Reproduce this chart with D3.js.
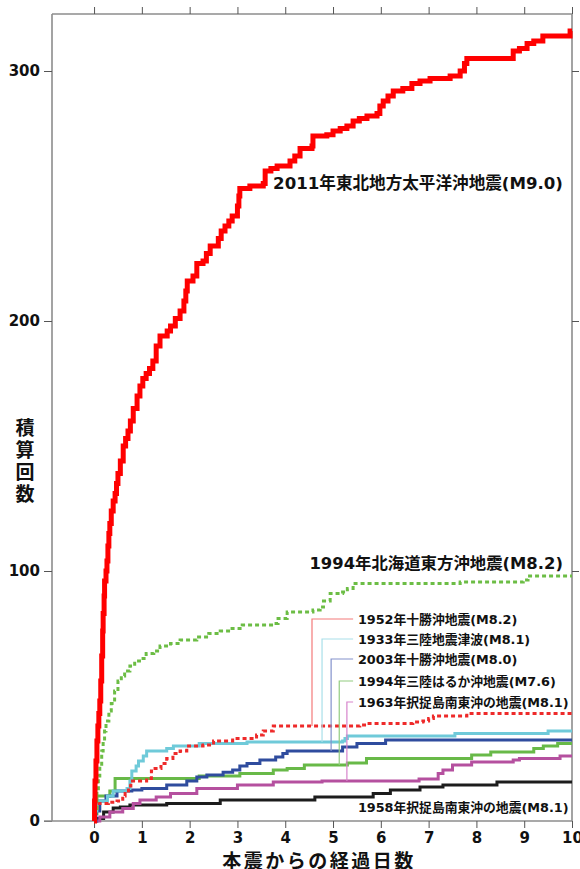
<!DOCTYPE html>
<html>
<head>
<meta charset="utf-8">
<script src="https://cdn.jsdelivr.net/npm/d3@7"></script>
<style>
  html, body { margin: 0; padding: 0; background: #fff; }
  svg { display: block; }
  text { font-family: "DejaVu Sans", "Noto Sans CJK JP", sans-serif; font-weight: bold; fill: #111; }
</style>
</head>
<body>
<svg id="chart" width="580" height="869"></svg>
<script>
// Cumulative aftershock counts [days after mainshock, count] (step after)
const eq2011 = [[0,0],[0.01,8],[0.02,16],[0.04,24],[0.06,32],[0.08,38],[0.1,43],[0.12,48],[0.14,56],[0.16,66],[0.18,76],[0.19,83],[0.21,90],[0.22,96],[0.25,100],[0.27,104],[0.29,110],[0.31,115],[0.33,119],[0.36,124],[0.4,128],[0.44,131],[0.47,135],[0.5,139],[0.55,144],[0.61,150],[0.66,153],[0.71,156],[0.76,160],[0.82,165],[0.9,170],[0.96,174],[1.02,177],[1.09,179],[1.16,181],[1.23,184],[1.3,190],[1.38,194],[1.53,196],[1.6,198],[1.7,201],[1.8,204],[1.88,208],[1.92,212],[1.95,216],[2.07,218],[2.15,223],[2.28,224],[2.35,227],[2.43,230],[2.6,233],[2.66,236],[2.74,238],[2.82,240],[2.89,242],[3.0,246],[3.03,250],[3.05,253],[3.26,254],[3.54,255],[3.58,260],[3.7,261],[3.83,262],[4.1,264],[4.2,266],[4.31,269],[4.56,270],[4.58,274],[4.87,274.5],[5.0,276],[5.15,277],[5.29,278],[5.42,280],[5.55,281],[5.71,282],[5.92,283],[5.98,286],[6.05,288],[6.15,290],[6.26,292],[6.46,293],[6.65,295],[6.82,296],[7.03,297],[7.45,298],[7.66,300],[7.75,303],[7.8,305],[8.77,308],[8.9,309],[9.06,311],[9.2,312],[9.39,314],[9.96,316],[10,316]];
const eq1994h = [[0,0],[0.03,5],[0.06,12],[0.09,18],[0.12,22],[0.16,28],[0.19,32],[0.22,36],[0.25,40],[0.31,44],[0.36,47],[0.43,52],[0.5,56],[0.57,58],[0.64,60],[0.75,62],[0.85,64],[0.95,65],[1.09,67],[1.25,68],[1.38,70],[1.6,71],[1.8,72.4],[2.15,73.6],[2.4,75],[2.64,76],[2.85,77],[3.1,78.4],[3.75,79],[3.85,81],[4.04,83.6],[4.58,84.4],[4.73,85.6],[4.8,88],[4.94,91],[5.2,91.6],[5.3,93],[5.42,95],[7.66,95.6],[8.98,96.4],[9.08,98],[10,98]];
const eq1952 = [[0,0],[0.02,4],[0.06,7],[0.3,7.5],[0.48,8],[0.6,10],[0.65,11],[0.72,14],[0.77,16],[1.1,17],[1.2,20],[1.24,21],[1.4,23],[1.52,25],[1.65,27],[1.8,28],[1.94,30],[2.28,30.4],[2.5,32],[2.9,33],[3.4,34.4],[3.54,36],[3.75,38],[5.56,38.4],[5.7,39],[6.67,39.6],[6.88,40],[7.0,41],[7.1,42],[7.8,43],[10,43]];
const eq1933 = [[0,0],[0.03,4],[0.06,8],[0.28,10],[0.4,12],[0.69,13],[0.75,16],[0.79,20],[0.88,22],[0.93,24],[1.03,26],[1.1,28],[1.52,29],[1.66,30],[2.2,31],[3.2,31.6],[5.2,32],[5.25,33],[5.3,34],[7.55,35],[9.5,36],[10,36]];
const eq2003 = [[0,0],[0.04,4],[0.12,8],[0.25,10],[0.48,12],[0.79,12.4],[1.0,13],[1.52,14.4],[1.94,16],[2.15,17.6],[2.36,18.4],[2.7,19.5],[2.9,20.4],[3.05,22],[3.2,23],[3.47,24.4],[3.8,25.6],[3.95,27],[4.04,28],[5.2,29.6],[5.5,31],[6.1,32.4],[10,32.4]];
const eq1994s = [[0,0],[0.03,3],[0.06,10],[0.33,12],[0.44,17],[2.2,18],[3.05,19],[3.75,20.4],[4.04,21],[4.4,22.4],[5.3,23.2],[5.7,25],[7.9,26.4],[8.3,27.6],[9.2,29],[9.4,30],[9.7,31],[10,31]];
const eq1963 = [[0,0],[0.12,1.6],[0.33,3.6],[0.6,5],[0.82,7],[0.96,8.4],[1.3,9.6],[1.6,11],[2.15,13],[3.0,14.4],[3.75,15.6],[4.77,16],[6.8,16.8],[7.2,19],[7.3,20.4],[7.5,22.4],[7.9,23.6],[8.77,24.4],[8.9,25],[9.75,26],[10,26]];
const eq1958 = [[0,0],[0.06,1],[0.2,3.6],[0.4,5.2],[0.55,5.6],[0.75,6.4],[1.52,7],[2.64,8.4],[4.62,9.6],[5.84,11],[6.2,12.4],[6.82,13.6],[7.3,14.4],[8.43,15.6],[10,15.6]];

const xTicks = [0,1,2,3,4,5,6,7,8,9,10];
const yTicks = [0,100,200,300];
const xTitle = "本震からの経過日数";
const yTitle = ["積","算","回","数"];

// Series drawn back to front
const series = [
  { name: "1958年択捉島南東沖の地震(M8.1)", data: eq1958, color: "#1c1c1c", width: 3, dash: null },
  { name: "1963年択捉島南東沖の地震(M8.1)", data: eq1963, color: "#b5509f", width: 3, dash: null },
  { name: "1994年三陸はるか沖地震(M7.6)", data: eq1994s, color: "#68b948", width: 3, dash: null },
  { name: "2003年十勝沖地震(M8.0)", data: eq2003, color: "#2f4c9e", width: 3, dash: null },
  { name: "1933年三陸地震津波(M8.1)", data: eq1933, color: "#6fcad9", width: 3, dash: null },
  { name: "1952年十勝沖地震(M8.2)", data: eq1952, color: "#ee2a2a", width: 3, dash: "4,3" },
  { name: "1994年北海道東方沖地震(M8.2)", data: eq1994h, color: "#6cbd45", width: 3, dash: "4,3" },
  { name: "2011年東北地方太平洋沖地震(M9.0)", data: eq2011, color: "#ff0000", width: 5, dash: null }
];

// Leader-line labels: series index, day where the leader drops, count at the label row
const leaders = [
  { idx: 5, day: 4.56, row: 80.8, color: "#f37a7a" },
  { idx: 4, day: 4.77, row: 72.8, color: "#a9e0ea" },
  { idx: 3, day: 4.96, row: 64.8, color: "#8392cc" },
  { idx: 2, day: 5.13, row: 56.0, color: "#92cc80" },
  { idx: 1, day: 5.29, row: 47.6, color: "#d784cc" }
];

const svg = d3.select("#chart");
const x = d3.scaleLinear().domain([-0.88, 10]).range([52, 572]);
const y = d3.scaleLinear().domain([0, 322.8]).range([821, 14]);

// Frame: left / right / top / bottom axes
const axisColor = "#8c8c8c";
const axLeft = svg.append("g").attr("transform", `translate(${x.range()[0]},0)`)
  .call(d3.axisLeft(y).tickValues(yTicks).tickSize(8).tickPadding(4));
const axRight = svg.append("g").attr("transform", `translate(${x.range()[1]},0)`)
  .call(d3.axisRight(y).tickValues(yTicks.slice(1)).tickSize(7).tickFormat(""));
const axTop = svg.append("g").attr("transform", `translate(0,${y.range()[1]})`)
  .call(d3.axisTop(x).tickValues(xTicks).tickSize(7).tickFormat(""));
const axBottom = svg.append("g").attr("transform", `translate(0,${y.range()[0]})`)
  .call(d3.axisBottom(x).tickValues(xTicks).tickSize(7).tickPadding(4));

[axLeft, axRight, axTop, axBottom].forEach(g => {
  g.select(".domain").attr("stroke", axisColor).attr("stroke-width", 1.6);
  g.selectAll(".tick line").attr("stroke", "#555").attr("stroke-width", 1);
  g.selectAll(".tick text").style("font-size", "15px").attr("fill", "#111");
});
axLeft.select(".domain").attr("d", `M0,${y.range()[1]}V${y.range()[0]}`);
axRight.select(".domain").attr("d", `M0,${y.range()[1]}V${y.range()[0]}`);
axTop.select(".domain").attr("d", `M${x.range()[0]},0H${x.range()[1]}`);
axBottom.select(".domain").attr("d", `M${x.range()[0] - 8},0H${x.range()[1]}`);
axBottom.selectAll(".tick text").attr("dy", "0.72em");

// Axis titles
svg.append("text")
  .attr("x", (x(0) + x(10)) / 2 - 14).attr("y", 861)
  .attr("text-anchor", "middle").attr("dominant-baseline", "central")
  .style("font-size", "19px").style("letter-spacing", "2.5px").text(xTitle);
svg.append("g").selectAll("text").data(yTitle).join("text")
  .attr("x", 25).attr("y", (d, i) => 428 + i * 22)
  .attr("text-anchor", "middle").attr("dominant-baseline", "central")
  .style("font-size", "19px").text(d => d);

// Curves
const line = d3.line().x(d => x(d[0])).y(d => y(d[1])).curve(d3.curveStepAfter);
svg.append("g").selectAll("path").data(series).join("path")
  .attr("d", d => line(d.data))
  .attr("fill", "none")
  .attr("stroke", d => d.color)
  .attr("stroke-width", d => d.width)
  .attr("stroke-dasharray", d => d.dash)
  .attr("stroke-linejoin", "miter");

// Count of a series at a given day (step lookup)
function valueAt(data, day) {
  let v = 0;
  for (const p of data) { if (p[0] <= day) v = p[1]; }
  return v;
}

// Leaders and their labels
const lineEnd = 5.42, textStart = 5.52;
const lg = svg.append("g");
leaders.forEach(l => {
  const s = series[l.idx];
  const yCurve = valueAt(s.data, l.day);
  lg.append("path")
    .attr("d", `M${x(l.day)},${y(yCurve)}V${y(l.row)}H${x(lineEnd)}`)
    .attr("fill", "none").attr("stroke", l.color).attr("stroke-width", 1.2);
  lg.append("text")
    .attr("x", x(textStart)).attr("y", y(l.row))
    .attr("dominant-baseline", "central")
    .style("font-size", "12.8px").text(s.name);
});

// Direct labels
svg.append("text").attr("x", x(textStart)).attr("y", y(5.6))
  .attr("dominant-baseline", "central").style("font-size", "12.8px").text(series[0].name);
svg.append("text").attr("x", x(9.81)).attr("y", y(103))
  .attr("text-anchor", "end").attr("dominant-baseline", "central")
  .style("font-size", "16.4px").text(series[6].name);
svg.append("text").attr("x", x(9.81)).attr("y", y(255))
  .attr("text-anchor", "end").attr("dominant-baseline", "central")
  .style("font-size", "16.6px").text(series[7].name);
</script>
</body>
</html>
